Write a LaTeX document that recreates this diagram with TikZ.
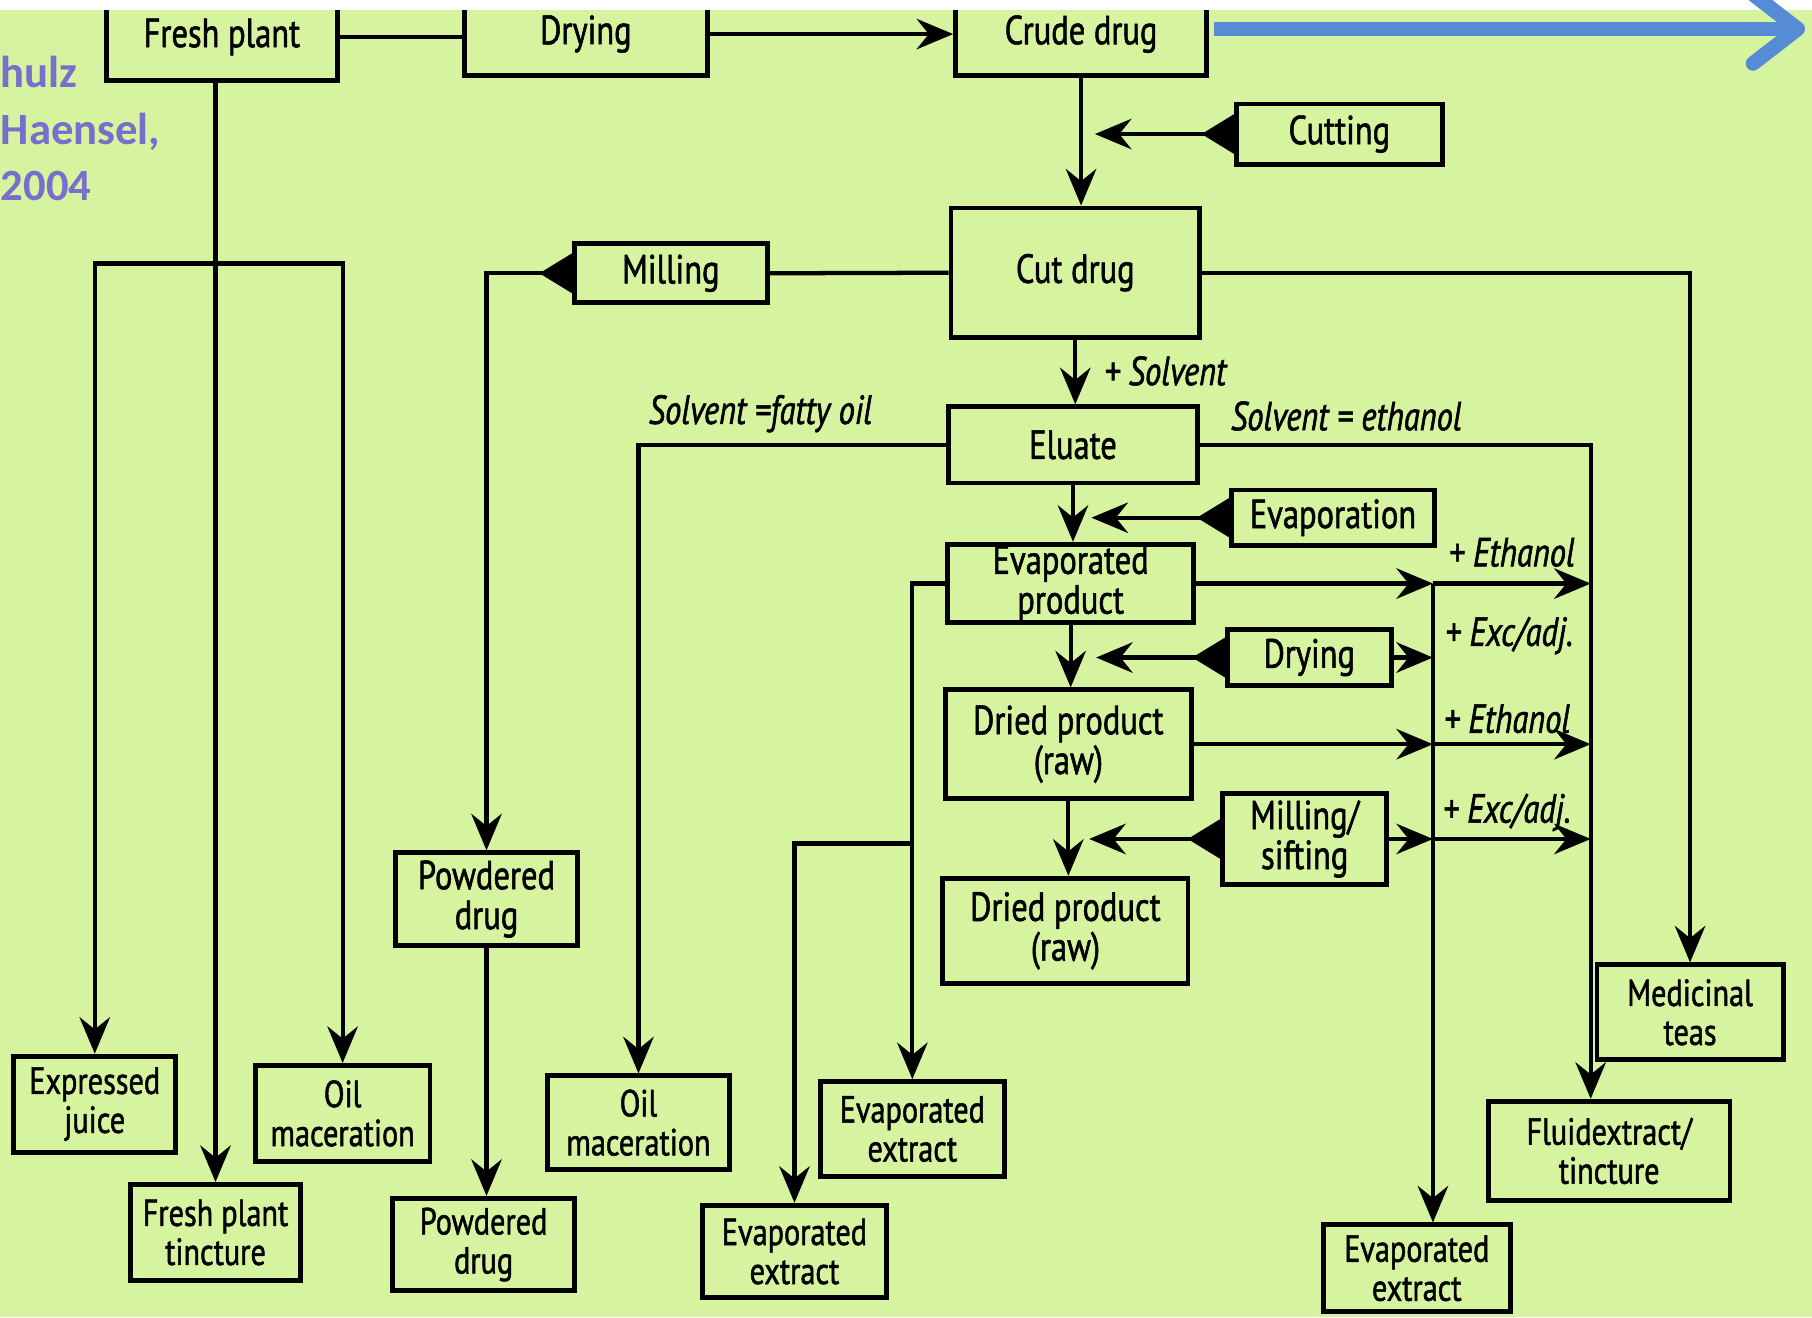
\documentclass[tikz,border=0pt]{standalone}
\usepackage{fontspec}
\setmainfont{PT Sans}[FakeStretch=0.8, FakeBold=1.3]
\newfontfamily\notefont{Carlito}
\usetikzlibrary{arrows.meta,calc}

\definecolor{paper}{RGB}{214,243,160}
\definecolor{notecol}{RGB}{120,110,204}
\definecolor{arrowblue}{RGB}{86,140,214}

\tikzset{
  stage/.style={draw, line width=1.2pt, align=center, inner sep=0pt,
    font=\fontsize{10}{9.8}\selectfont},
  product/.style={stage, font=\fontsize{9.3}{9.6}\selectfont},
  dims/.style 2 args={minimum width=#1cm, minimum height=#2cm},
  link/.style={line width=1.05pt},
  flow/.style={line width=1.05pt, -{Stealth[length=9pt,width=7.5pt,inset=3pt]}},
  feed/.style={line width=1.05pt,
    {Triangle[reversed,length=8pt,width=9.5pt]}-{Stealth[length=9pt,width=7.5pt,inset=3pt]}},
  note/.style={inner sep=0pt, font=\fontsize{10}{10}\selectfont\itshape}
}

\begin{document}
\begin{tikzpicture}[x=0.01cm, y=-0.01cm]
    \useasboundingbox (0,0) rectangle (1568,1140);
    \fill[paper] (0,0) rectangle (1568,1140);

    % top row
    \node[stage, dims={2.00}{0.76}] (fresh) at (192,32) {Fresh plant};
    \node[stage, dims={2.10}{0.71}] (dry1) at (507,29.5) {Drying};
    \node[stage, dims={2.17}{0.71}] (crude) at (935.5,29.5) {Crude drug};

    % main column
    \node[stage, dims={1.78}{0.52}] (cutting) at (1159,116) {Cutting};
    \node[stage, dims={2.15}{1.12}] (cut) at (930.5,236) {Cut drug};
    \node[stage, dims={1.67}{0.51}] (milling) at (580.5,236.5) {Milling};
    \node[stage, dims={2.15}{0.66}] (eluate) at (928.5,385) {Eluate};
    \node[stage, dims={1.75}{0.48}] (evapn) at (1153.5,448) {Evaporation};
    \node[stage, dims={2.13}{0.68}] (evprod) at (926.5,505) {Evaporated\\product};
    \node[stage, dims={1.42}{0.48}] (dry2) at (1133,569) {Drying};
    \node[stage, dims={2.13}{0.94}] (dried1) at (924.5,644) {Dried product\\(raw)};
    \node[stage, dims={1.42}{0.78}] (millsift) at (1129,726) {Milling/\\sifting};
    \node[stage, dims={2.12}{0.91}] (dried2) at (922,805.5) {Dried product\\(raw)};
    \node[stage, dims={1.58}{0.80}] (powder1) at (421,778) {Powdered\\drug};

    % end products
    \node[product, dims={1.40}{0.83}] (juice) at (82,955.5) {Expressed\\juice};
    \node[product, dims={1.47}{0.83}] (tinct) at (186.5,1066.5) {Fresh plant\\tincture};
    \node[product, dims={1.51}{0.83}] (oil1) at (296.5,963.5) {Oil\\maceration};
    \node[product, dims={1.57}{0.80}] (powder2) at (418.5,1077) {Powdered\\drug};
    \node[product, dims={1.57}{0.81}] (oil2) at (552.5,971.5) {Oil\\maceration};
    \node[product, dims={1.59}{0.80}] (extA) at (687.5,1083) {Evaporated\\extract};
    \node[product, dims={1.59}{0.82}] (extB) at (789.5,977) {Evaporated\\extract};
    \node[product, dims={1.62}{0.75}] (extC) at (1226,1097.5) {Evaporated\\extract};
    \node[product, dims={2.09}{0.86}] (fluid) at (1392.5,996) {Fluidextract/\\tincture};
    \node[product, dims={1.61}{0.82}] (teas) at (1462.5,876) {Medicinal\\teas};

    % labels
    \node[note, anchor=west] (lsolv) at (955,321) {+ Solvent};
    \node[note] (lfatty) at (658,358) {Solvent =fatty oil};
    \node[note] (lethanol) at (1165,360) {Solvent = ethanol};
    \node[note, anchor=west] (leth1) at (1253,478) {+ Ethanol};
    \node[note, anchor=west] (lexc1) at (1250,550) {+ Exc/adj.};
    \node[note, anchor=west] (leth2) at (1249,622) {+ Ethanol};
    \node[note, anchor=west] (lexc2) at (1248,703) {+ Exc/adj.};

    % helper points
    \coordinate (split) at (186.5,228);
    \coordinate (hub) at (1240,507);
    \coordinate (tinctline) at ($(fluid.north)+(-16,0)$);
    \coordinate (branch) at (789.5,730);
    \coordinate (cutin) at ($(crude.south |- cutting.west)+(12,0)$);
    \coordinate (evin) at ($(eluate.south |- evapn.west)+(16,0)$);
    \coordinate (dryin) at ($(evprod.south |- dry2.west)+(22,0)$);
    \coordinate (millin) at ($(dried1.south |- millsift.west)+(18,0)$);

    % fresh plant branch
    \draw[link] (fresh.east) -- (fresh.east -| dry1.west);
    \draw[flow] (dry1.east) -- (dry1.east -| crude.west);
    \draw[flow] (tinct.north |- fresh.south) -- (tinct.north);
    \draw[flow] (split) -| (juice.north);
    \draw[flow] (split) -| (oil1.north);

    % crude drug to eluate
    \draw[flow] (crude.south) -- (crude.south |- cut.north);
    \draw[feed] (cutting.west) -- (cutin);
    \draw[link] (cut.west) -- (milling.east);
    \draw[feed] (milling.west) -| (powder1.north);
    \draw[flow] (powder1.south) -- (powder1.south |- powder2.north);
    \draw[flow] (cut.east) -| (teas.north);
    \draw[flow] (cut.south) -- (cut.south |- eluate.north);
    \draw[flow] (eluate.west) -| (oil2.north);
    \draw[flow] (eluate.east) -| (tinctline);

    % evaporation and drying
    \draw[flow] (eluate.south) -- (eluate.south |- evprod.north);
    \draw[feed] (evapn.west) -- (evin);
    \draw[flow] (evprod.south) -- (evprod.south |- dried1.north);
    \draw[feed] (dry2.west) -- (dryin);
    \draw[flow] (dried1.south) -- (dried1.south |- dried2.north);
    \draw[feed] (millsift.west) -- (millin);

    % ethanol / excipients
    \draw[flow] (evprod.east) -- (evprod.east -| hub);
    \draw[flow] (evprod.east -| hub) -- (evprod.east -| tinctline);
    \draw[flow] (dry2.east) -- (dry2.east -| hub);
    \draw[flow] (dried1.east) -- (dried1.east -| hub);
    \draw[flow] (dried1.east -| hub) -- (dried1.east -| tinctline);
    \draw[flow] (millsift.east) -- (millsift.east -| hub);
    \draw[flow] (millsift.east -| hub) -- (millsift.east -| tinctline);
    \draw[flow] (evprod.east -| hub) -- (hub |- extC.north);

    % evaporated extracts on the left
    \draw[flow] (evprod.west) -| (extB.north);
    \draw[flow] (branch) -| (extA.north);

    % strip and slide overlay
    \fill[white] (0,0) rectangle (1568,9);
    \node[anchor=north west, align=left, inner sep=0pt, text=notecol,
      font=\notefont\bfseries\fontsize{11}{13.9}\selectfont] (credit) at (0,48) {hulz\\Haensel,\\2004};
    \coordinate (bluetip) at (1562,25);
    \draw[arrowblue, line width=3.6pt,
      -{Straight Barb[length=11pt,width=17pt,round]}]
      ($(crude.east |- bluetip)+(4,0)$) -- (bluetip);
\end{tikzpicture}
\end{document}
